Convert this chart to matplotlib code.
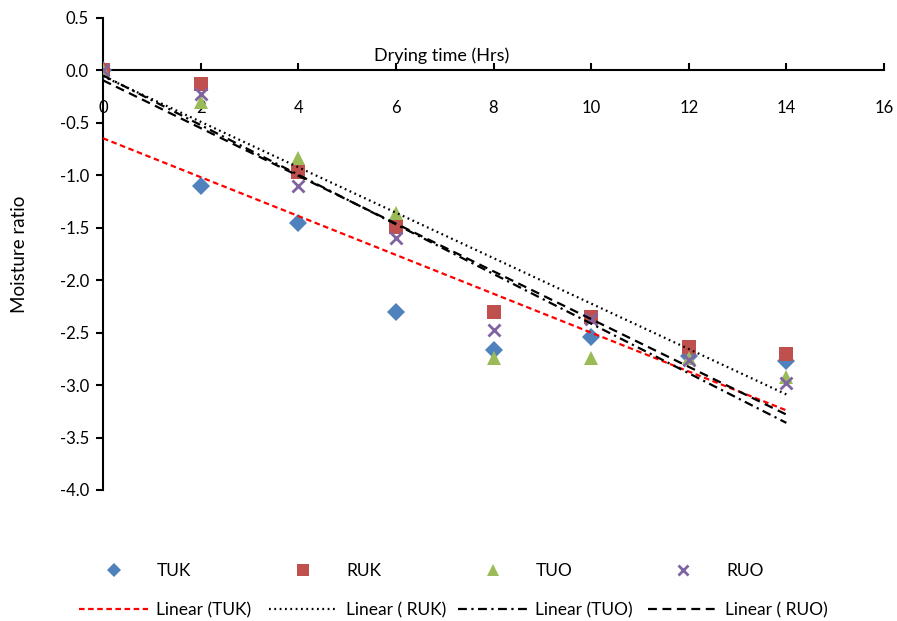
import numpy as np
import matplotlib
matplotlib.use("Agg")
from matplotlib import pyplot as plt

plt.rcParams['font.family'] = ['Lato', 'DejaVu Sans']
plt.rcParams['font.size'] = 13

# drying time (hrs)
hours = [0, 2, 4, 6, 8, 10, 12, 14]

# ln(moisture ratio)
tuk = [0.0, -1.10, -1.45, -2.30, -2.67, -2.54, -2.72, -2.77]
ruk = [0.0, -0.13, -0.97, -1.49, -2.30, -2.35, -2.64, -2.70]
tuo = [0.0, -0.30, -0.83, -1.36, -2.74, -2.74, -2.74, -2.92]
ruo = [0.0, -0.22, -1.10, -1.60, -2.47, -2.37, -2.76, -2.98]

names = ['TUK', 'RUK', 'TUO', 'RUO']
trend_names = ['Linear (TUK)', 'Linear ( RUK)', 'Linear (TUO)', 'Linear ( RUO)']
series = [tuk, ruk, tuo, ruo]

colors = ['#4F81BD', '#C0504D', '#9BBB59', '#8064A2']
markers = ['D', 's', '^', 'x']
msizes = [9, 10, 10, 9]
trend_colors = ['#FF0000', 'black', 'black', 'black']
trend_styles = [(0, (2.5, 1.6)), (0, (0.8, 1.6)), (0, (4, 2, 1, 2)), (0, (4, 2.5))]

fig = plt.figure(figsize=(8.97, 6.21), dpi=100)
ax = fig.add_axes([103/897, 131/621, 781/897, 472/621])

x = np.array(hours)
marker_handles = []
line_handles = []
for ys, c, m, ms in zip(series, colors, markers, msizes):
    h, = ax.plot(x, ys, linestyle='none', marker=m, color=c, markersize=ms,
                 markeredgewidth=2 if m == 'x' else 0, zorder=3)
    marker_handles.append(h)

# linear trendlines like excel
for ys, c, ls in zip(series, trend_colors, trend_styles):
    k, b = np.polyfit(x, ys, 1)
    xx = np.array([x.min(), x.max()])
    h, = ax.plot(xx, k * xx + b, color=c, linestyle=ls, linewidth=1.6, zorder=4)
    line_handles.append(h)

ax.set_xlim(0, 16)
ax.set_ylim(-4.0, 0.5)
ax.set_xticks(np.arange(0, 17, 2))
ax.set_yticks(np.arange(-4.0, 0.51, 0.5))
ax.yaxis.set_major_formatter(matplotlib.ticker.FormatStrFormatter('%.1f'))

ax.spines['top'].set_visible(False)
ax.spines['right'].set_visible(False)
ax.spines['bottom'].set_position(('data', 0))
ax.spines['bottom'].set_linewidth(1.5)
ax.spines['left'].set_linewidth(1.5)
ax.tick_params(axis='x', direction='in', length=5, width=1.5, pad=21, labelsize=12)
ax.tick_params(axis='y', direction='out', length=5, width=1.5, pad=5, labelsize=12)

ax.set_xlabel('Drying time (Hrs)')
ax.xaxis.set_label_coords(339/781, 443/472)
ax.set_ylabel('Moisture ratio', fontsize=13.5)
ax.yaxis.set_label_coords(-75/781, 0.5)

leg_fs = 12.5
em = leg_fs / 72 * 100
# legend row 1: markers
for h, name, mx in zip(marker_handles, names, [114, 303, 493, 683]):
    fig.legend([h], [name], loc='center left', bbox_to_anchor=((mx - 0.5 * em) / 897, 50/621),
               frameon=False, borderpad=0, borderaxespad=0, handlelength=1, markerscale=0.8,
               handletextpad=(43 - 0.5 * em) / em, fontsize=leg_fs)
# legend row 2: trendlines
for h, name, lx in zip(line_handles, trend_names, [79, 269, 458, 648]):
    fig.legend([h], [name], loc='center left', bbox_to_anchor=(lx / 897, 11/621),
               frameon=False, borderpad=0, borderaxespad=0, handlelength=69 / em,
               handletextpad=8 / em, fontsize=leg_fs)

fig.savefig('out.png', dpi=100)
